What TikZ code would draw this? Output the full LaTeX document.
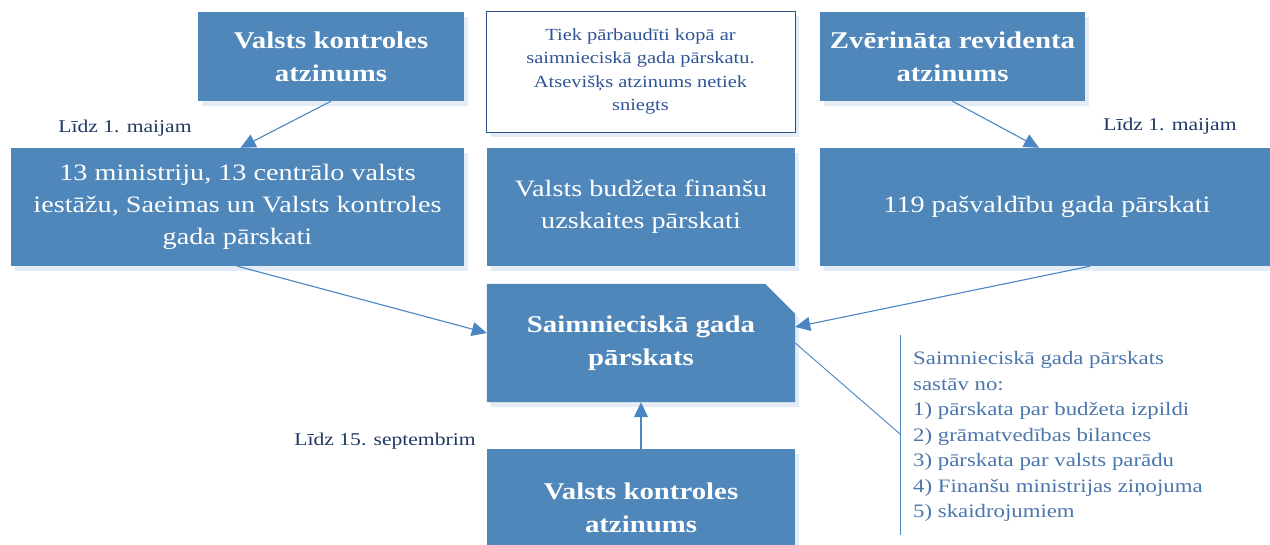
\documentclass[tikz,border=0pt]{standalone}
\usepackage{fontspec}
\setmainfont[FakeStretch=1.2]{Liberation Serif}
\usepackage{xcolor}
\usetikzlibrary{positioning,arrows.meta,calc,shadows,backgrounds}

\definecolor{boxblue}{HTML}{4F87BA}
\definecolor{shadowblue}{HTML}{E4ECF5}
\definecolor{lineblue}{HTML}{4A85C4}
\definecolor{navy}{HTML}{1F3864}
\definecolor{notetext}{HTML}{2F5496}
\definecolor{noteborder}{HTML}{2E4F8C}
\definecolor{callblue}{HTML}{4A76AC}

\tikzset{
  bluebox/.style={fill=boxblue, text=white, align=center, inner sep=0pt,
    drop shadow={shadow xshift=4pt, shadow yshift=-5pt, fill=shadowblue, opacity=1}},
  boxtxt/.style={font=\fontsize{23.5}{32}\selectfont},
  boxbold/.style={font=\fontsize{24}{33}\selectfont\bfseries},
  lbl/.style={text=navy, font=\fontsize{18}{22}\selectfont, inner sep=0pt},
  arr/.style={lineblue, line width=1.1pt, -{Triangle[length=15pt,width=14pt]}},
}

\begin{document}
\begin{tikzpicture}[x=1pt, y=-1pt]
    \useasboundingbox (0,0) rectangle (1270,544);

    % top row
    \node[bluebox, boxbold, minimum width=266pt, minimum height=89pt] (vkA) at (331,56.5) {Valsts kontroles\\atzinums};
    \node[draw=noteborder, line width=1pt, fill=white, text=notetext, align=center, inner sep=0pt,
          font=\fontsize{17}{23.5}\selectfont, minimum width=309pt, minimum height=121pt,
          drop shadow={shadow xshift=4pt, shadow yshift=-5pt, fill=shadowblue, opacity=1}] (note) at (640.5,71.5)
          {Tiek pārbaudīti kopā ar\\saimnieciskā gada pārskatu.\\Atsevišķs atzinums netiek\\sniegts};
    \node[bluebox, boxbold, minimum width=265pt, minimum height=89pt] (zr) at (952.5,56.5) {Zvērināta revidenta\\atzinums};

    % middle row
    \node[bluebox, boxtxt, minimum width=453pt, minimum height=118pt] (min) at (237.5,207)
          {13 ministriju, 13 centrālo valsts\\iestāžu, Saeimas un Valsts kontroles\\gada pārskati};
    \node[bluebox, boxtxt, minimum width=308pt, minimum height=118pt] (budz) at (641,207) {Valsts budžeta finanšu\\uzskaites pārskati};
    \node[bluebox, boxtxt, minimum width=454pt, minimum height=118pt] (pasv) at (1047,207) {119 pašvaldību gada pārskati};

    % snipped box
    \node[boxbold, text=white, align=center, inner sep=0pt, minimum width=308pt, minimum height=118pt] (sgp) at (641,343)
          {Saimnieciskā gada\\pārskats};
    \begin{scope}[on background layer]
        \fill[shadowblue, transform canvas={shift={(4pt,-5pt)}}] (sgp.south west) -- (sgp.north west)
            -- ([xshift=-30pt]sgp.north east) -- ([yshift=-30pt]sgp.north east) -- (sgp.south east) -- cycle;
        \fill[boxblue] (sgp.south west) -- (sgp.north west)
            -- ([xshift=-30pt]sgp.north east) -- ([yshift=-30pt]sgp.north east) -- (sgp.south east) -- cycle;
    \end{scope}

    \node[bluebox, boxbold, minimum width=308pt, minimum height=118pt] (vkB) at (641,508) {Valsts kontroles\\atzinums};

    % labels
    \node[lbl] (lidzA) at (125,128) {Līdz 1. maijam};
    \node[lbl] (lidzB) at (1170,126) {Līdz 1. maijam};
    \node[lbl] (lidzC) at (385,441) {Līdz 15. septembrim};

    % arrows
    \draw[arr] (vkA.south) -- ([xshift=3pt]min.north);
    \draw[arr] (zr.south) -- ([xshift=-8pt]pasv.north);
    \draw[arr] (min.south) -- ([yshift=10pt]sgp.west);
    \draw[arr] ([xshift=43pt]pasv.south) -- ([yshift=16pt]sgp.east);
    \draw[arr] (vkB.north) -- (sgp.south);

    % callout
    \coordinate (cTop) at (900,335);
    \coordinate (cMid) at (900,434);
    \coordinate (cBot) at (900,535);
    \draw[lineblue, line width=0.9pt] (sgp.east) -- (cMid);
    \draw[lineblue, line width=0.9pt] (cTop) -- (cBot);
    \node[anchor=west, align=left, text=callblue, inner sep=0pt, font=\fontsize{19}{25.5}\selectfont] (sastavs) at (913,436.5)
          {Saimnieciskā gada pārskats\\sastāv no:\\1) pārskata par budžeta izpildi\\2) grāmatvedības bilances\\3) pārskata par valsts parādu\\4) Finanšu ministrijas ziņojuma\\5) skaidrojumiem};
\end{tikzpicture}
\end{document}
